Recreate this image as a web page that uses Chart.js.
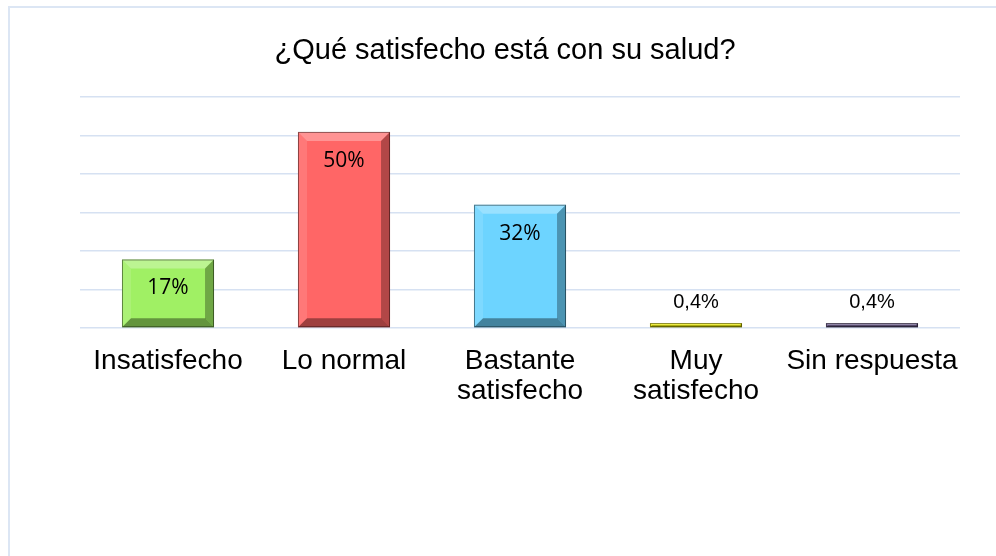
<!DOCTYPE html>
<html>
<head>
<meta charset="utf-8">
<script src="https://cdn.jsdelivr.net/npm/chart.js@4"></script>
<style>
  html, body { margin: 0; padding: 0; background: #fff; overflow: hidden; }
  #wrap { position: relative; width: 996px; height: 556px; }
  #frame {
    position: absolute; left: 8px; top: 6px; width: 1000px; height: 600px;
    border-left: 2px solid #dce6f4; border-top: 2px solid #dce6f4;
  }
  #satisfaccionChart { position: absolute; left: 0; top: 0; }
</style>
</head>
<body>
<div id="wrap">
  <div id="frame"></div>
  <canvas id="satisfaccionChart" width="996" height="556"></canvas>
</div>
<script>
const chartTitle = '¿Qué satisfecho está con su salud?';
const categories = ['Insatisfecho', 'Lo normal', ['Bastante', 'satisfecho'], ['Muy', 'satisfecho'], 'Sin respuesta'];
const percentages = [17.8, 50.9, 32, 0.4, 0.4];
const valueLabels = ['17%', '50%', '32%', '0,4%', '0,4%'];
const yMax = 60;
const yStep = 10;

const barColors = ['#a0f064', '#ff6666', '#6dd4ff', '#f2f200', '#6a5a8c'];

// Bisel tipo "3D" de Excel sobre cada barra
const bevelPlugin = {
    id: 'bevel',
    afterDatasetsDraw(chart) {
        const ctx = chart.ctx;
        const meta = chart.getDatasetMeta(0);
        meta.data.forEach((bar) => {
            const p = bar.getProps(['x', 'y', 'base', 'width'], true);
            const l = p.x - p.width / 2, r = p.x + p.width / 2;
            const t = Math.min(p.y, p.base), b = Math.max(p.y, p.base);
            const h = b - t;
            const s = Math.min(9, h / 2);
            ctx.save();
            // top light
            ctx.fillStyle = 'rgba(255,255,255,0.30)';
            ctx.beginPath();
            ctx.moveTo(l, t); ctx.lineTo(r, t); ctx.lineTo(r - s, t + s); ctx.lineTo(l + s, t + s);
            ctx.fill();
            // left light
            ctx.fillStyle = 'rgba(255,255,255,0.12)';
            ctx.beginPath();
            ctx.moveTo(l, t); ctx.lineTo(l + s, t + s); ctx.lineTo(l + s, b - s); ctx.lineTo(l, b);
            ctx.fill();
            // right dark
            ctx.fillStyle = 'rgba(0,0,0,0.30)';
            ctx.beginPath();
            ctx.moveTo(r, t); ctx.lineTo(r, b); ctx.lineTo(r - s, b - s); ctx.lineTo(r - s, t + s);
            ctx.fill();
            // bottom dark
            ctx.fillStyle = 'rgba(0,0,0,0.38)';
            ctx.beginPath();
            ctx.moveTo(l, b); ctx.lineTo(r, b); ctx.lineTo(r - s, b - s); ctx.lineTo(l + s, b - s);
            ctx.fill();
            // outline
            ctx.strokeStyle = 'rgba(0,0,0,0.45)';
            ctx.lineWidth = 1;
            ctx.strokeRect(l + 0.5, t + 0.5, p.width - 1, h - 1);
            ctx.restore();
        });
    }
};

// Etiquetas de valor: dentro de la barra si es alta, encima si es minima
const valueLabelPlugin = {
    id: 'valueLabels',
    afterDatasetsDraw(chart) {
        const ctx = chart.ctx;
        const meta = chart.getDatasetMeta(0);
        ctx.save();
        ctx.fillStyle = '#000';
        ctx.textAlign = 'center';
        ctx.textBaseline = 'middle';
        meta.data.forEach((bar, i) => {
            if (percentages[i] >= 5) {
                ctx.font = '21px "Open Sans"';
                ctx.fillText(valueLabels[i], bar.x, bar.y + 29);
            } else {
                ctx.font = '20px "Liberation Sans"';
                ctx.fillText(valueLabels[i], bar.x, bar.y - 21);
            }
        });
        ctx.restore();
    }
};

new Chart(document.getElementById('satisfaccionChart').getContext('2d'), {
    type: 'bar',
    data: {
        labels: categories,
        datasets: [{
            data: percentages,
            backgroundColor: barColors,
            borderWidth: 0,
            barPercentage: 0.523,
            categoryPercentage: 1,
            minBarLength: 5
        }]
    },
    options: {
        responsive: false,
        animation: false,
        devicePixelRatio: 1,
        // padding asimetrico para centrar el titulo en x=505
        layout: { padding: { left: 20, right: 6, top: 0, bottom: 132 } },
        scales: {
            x: {
                grid: { display: false, drawTicks: false },
                border: { display: false },
                ticks: {
                    color: '#000',
                    padding: 18,
                    maxRotation: 0,
                    autoSkip: false,
                    font: { family: '"Liberation Sans", Arial, sans-serif', size: 28, lineHeight: 1.07 }
                }
            },
            y: {
                min: 0,
                max: yMax,
                ticks: { display: false, stepSize: yStep },
                grid: { color: '#d6e1f2', lineWidth: 1.6, drawTicks: false },
                border: { display: false },
                afterFit(scale) { scale.width = 60; }
            },
            yRight: {
                position: 'right',
                ticks: { display: false },
                grid: { display: false, drawTicks: false },
                border: { display: false },
                afterFit(scale) { scale.width = 30; }
            }
        },
        plugins: {
            legend: { display: false },
            tooltip: { enabled: false },
            title: {
                display: true,
                text: chartTitle,
                color: '#000',
                padding: { top: 34, bottom: 28 },
                font: { family: '"Liberation Sans", Arial, sans-serif', size: 29, weight: 'normal', lineHeight: 1.2 }
            }
        }
    },
    plugins: [bevelPlugin, valueLabelPlugin]
});
</script>
</body>
</html>
